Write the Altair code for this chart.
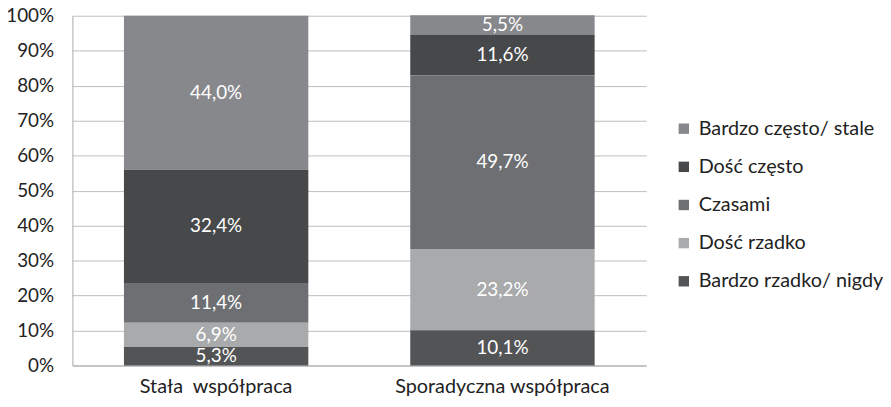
import altair as alt
import pandas as pd

groups = ["Stała\u00a0 współpraca", "Sporadyczna współpraca"]
categories = ["Bardzo często/ stale", "Dość często", "Czasami", "Dość rzadko", "Bardzo rzadko/ nigdy"]
colors = ["#87888c", "#47484a", "#6e6f73", "#a9aaac", "#535456"]
# values per category (order of categories) for each group
stala = [44.0, 32.4, 11.4, 6.9, 5.3]
sporadyczna = [5.5, 11.6, 49.7, 23.2, 10.1]
y_ticks = [0, 10, 20, 30, 40, 50, 60, 70, 80, 90, 100]

rows = []
for g, vals in zip(groups, [stala, sporadyczna]):
    for i, (c, v) in enumerate(zip(categories, vals)):
        rows.append({"group": g, "cat": c, "value": v, "order": len(categories) - i})
df = pd.DataFrame(rows)

FONT = "Lato"

base = alt.Chart(df).transform_stack(
    stack="value", groupby=["group"], as_=["v0", "v1"], sort=[alt.SortField("order", "ascending")]
).transform_calculate(
    mid="(datum.v0 + datum.v1) / 2",
    label="replace(format(datum.value, '.1f'), '.', ',') + '%'",
)

x = alt.X("group:N", sort=groups, title=None,
          scale=alt.Scale(paddingInner=0.356, paddingOuter=0.18),
          axis=alt.Axis(labelAngle=0, labelFontSize=20, labelFont=FONT, labelColor="#222",
                        labelLimit=400, ticks=False, domainColor="#aaaaaa", labelPadding=11))

yaxis = alt.Axis(values=y_ticks, labelExpr="datum.value + '%'", labelOverlap=False,
                 labelFontSize=19, labelFont=FONT, labelColor="#222", ticks=False,
                 domain=True, domainColor="#aaaaaa", gridColor="#bdbdbd", labelPadding=19)
yscale = alt.Scale(domain=[0, 100])

bars = base.mark_bar().encode(
    x=x,
    y=alt.Y("v0:Q", title=None, scale=yscale, axis=yaxis),
    y2="v1:Q",
    color=alt.Color("cat:N", scale=alt.Scale(domain=categories, range=colors),
                    legend=alt.Legend(title=None, labelFontSize=20, labelFont=FONT,
                                      labelColor="#222", labelLimit=400,
                                      symbolType="square", symbolSize=110,
                                      symbolStrokeWidth=0, rowPadding=18.5,
                                      orient="none", legendX=607, legendY=104,
                                      labelOffset=5)),
)

labels = base.mark_text(color="white", fontSize=19, font=FONT).encode(
    x=alt.X("group:N", sort=groups, title=None),
    y=alt.Y("mid:Q", title=None, scale=yscale, axis=yaxis),
    text="label:N",
)

chart = (bars + labels).properties(
    width=579, height=353,
    autosize=alt.AutoSizeParams(type="none"),
    padding={"left": 65, "top": 6, "right": 239, "bottom": 32},
).configure_view(stroke=None).configure_axis(grid=True).configure_axisX(grid=False)

chart.save("out.html", embed_options={"renderer": "svg", "actions": False})
